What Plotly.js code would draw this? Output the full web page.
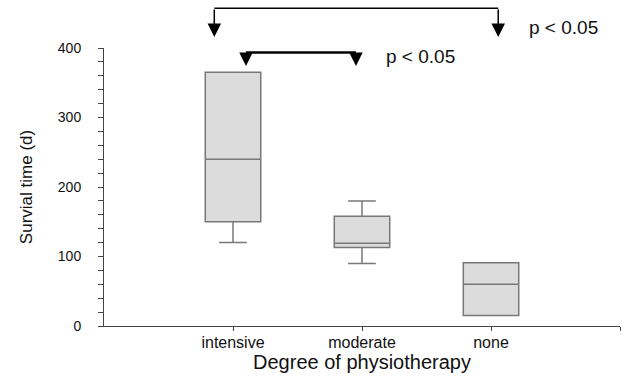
<!DOCTYPE html>
<html>
<head>
<meta charset="utf-8">
<script src="https://cdn.plot.ly/plotly-3.0.1.min.js"></script>
<style>html,body{margin:0;padding:0;background:#fff;}#chart{width:622px;height:376px;}</style>
</head>
<body>
<div id="chart"></div>
<script>
// Data
const categories = ['intensive', 'moderate', 'none'];
const catPos = [0, 1, 2];
const q1 = [150, 113, 15];
const median = [240, 119, 60];
const q3 = [365, 158, 91];
const lowerWhisker = [120, 90, 15];
const upperWhisker = [365, 180, 91];
const tickLabels = ['intensive', 'moderate', 'none', ''];
const pLabel = 'p < 0.05';

const font = '"Liberation Sans", Arial, Helvetica, sans-serif';

const trace = {
  type: 'box',
  x: catPos,
  q1: q1,
  median: median,
  q3: q3,
  lowerfence: lowerWhisker,
  upperfence: upperWhisker,
  width: 0.43,
  whiskerwidth: 0.5,
  boxpoints: false,
  fillcolor: '#dcdcdc',
  line: {color: '#787878', width: 1.5},
  hoverinfo: 'skip',
  showlegend: false
};

const arrowStyle = {
  text: '', showarrow: true, arrowhead: 2, arrowsize: 1.8, arrowwidth: 1.5,
  arrowcolor: '#000', standoff: 0, ax: 0, xref: 'x', yref: 'paper'
};

const layout = {
  width: 622, height: 376,
  margin: {l: 104, r: 2, t: 48, b: 50},
  paper_bgcolor: '#fff', plot_bgcolor: '#fff',
  font: {family: font, color: '#111'},
  xaxis: {
    range: [-1, 3], showgrid: false, zeroline: false,
    showline: true, linecolor: '#444', linewidth: 1,
    tickvals: [0, 1, 2, 3], ticktext: tickLabels,
    ticks: 'outside', ticklen: 4, tickcolor: '#444',
    ticklabelstandoff: -2,
    tickfont: {size: 16, color: '#111', family: font},
    title: {text: 'Degree of physiotherapy', font: {size: 20, color: '#111', family: font}, standoff: 4}
  },
  yaxis: {
    range: [0, 400], showgrid: false, zeroline: false,
    showline: true, linecolor: '#444', linewidth: 1,
    tickvals: [0, 100, 200, 300, 400],
    ticks: 'outside', ticklen: 5, tickcolor: '#444',
    minor: {dtick: 20, ticks: 'outside', ticklen: 5, tickcolor: '#444', showgrid: false},
    ticklabelstandoff: 14,
    tickfont: {size: 14, color: '#111', family: font},
    title: {text: 'Survial time (d)', font: {size: 17, color: '#111', family: font}, standoff: 20}
  },
  shapes: [
    {type: 'line', xref: 'x', yref: 'paper', x0: -0.145, x1: 2.056, y0: 1.143, y1: 1.143,
     line: {color: '#000', width: 1.5}},
    {type: 'line', xref: 'x', yref: 'paper', x0: 0.101, x1: 0.953, y0: 0.984, y1: 0.984,
     line: {color: '#000', width: 2.5}}
  ],
  annotations: [
    Object.assign({}, arrowStyle, {x: -0.145, y: 1.040, ay: -29}),
    Object.assign({}, arrowStyle, {x: 2.056, y: 1.040, ay: -29}),
    Object.assign({}, arrowStyle, {x: 0.101, y: 0.935, ay: -14}),
    Object.assign({}, arrowStyle, {x: 0.953, y: 0.935, ay: -14}),
    {text: pLabel, showarrow: false, xref: 'x', yref: 'paper', x: 2.279, y: 1.073,
     xanchor: 'left', yanchor: 'middle', font: {size: 19, color: '#111', family: font}},
    {text: pLabel, showarrow: false, xref: 'x', yref: 'paper', x: 1.171, y: 0.971,
     xanchor: 'left', yanchor: 'middle', font: {size: 19, color: '#111', family: font}}
  ]
};

Plotly.newPlot('chart', [trace], layout, {displayModeBar: false, staticPlot: true});
</script>
</body>
</html>
